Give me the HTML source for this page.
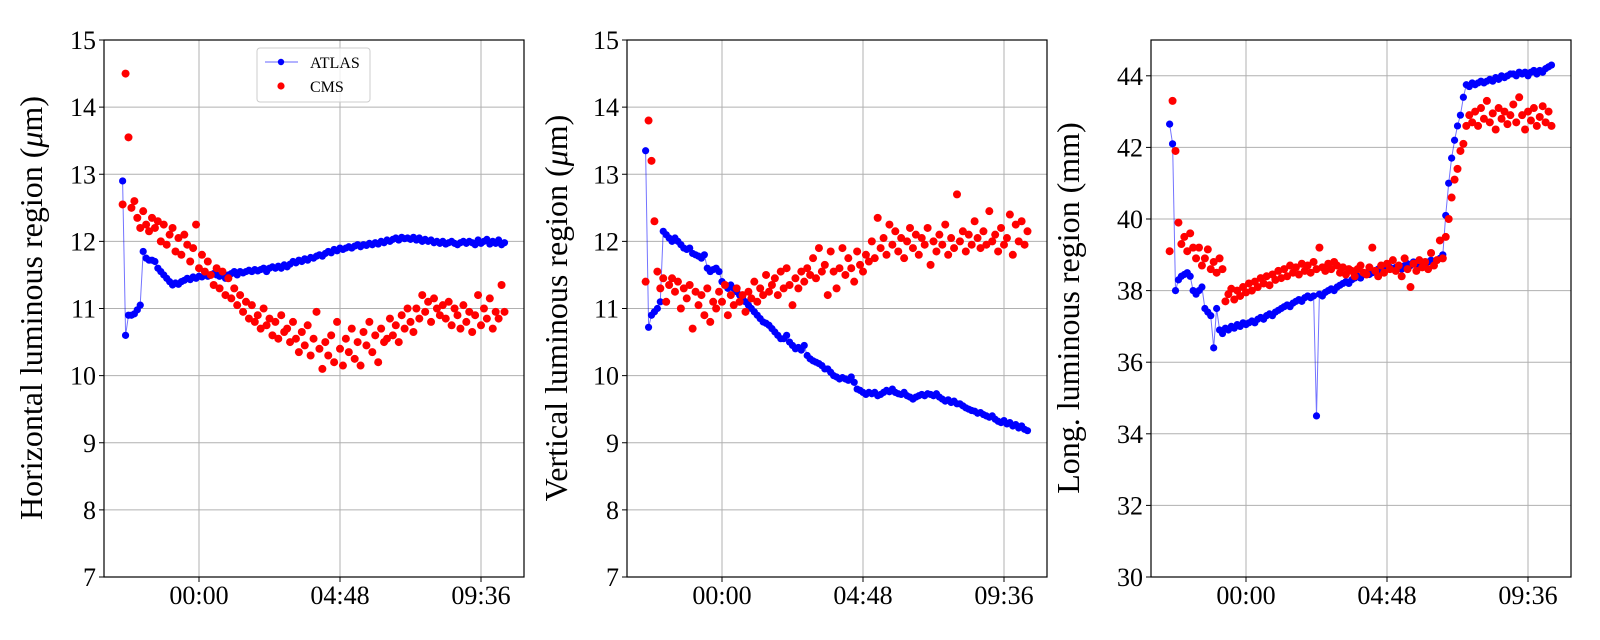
<!DOCTYPE html>
<html><head><meta charset="utf-8"><style>
html,body{margin:0;padding:0;background:#fff;}
svg{display:block;font-family:"Liberation Serif",serif;}
</style></head><body>
<svg id="fig" width="1600" height="640" viewBox="0 0 1600 640" xmlns="http://www.w3.org/2000/svg"></svg>
<script>
// Time axis: hours relative to 00:00, sampled every 0.1 h
const startHour = -2.6;
const stepHour = 0.1;
const xTickHours = [0, 4.8, 9.6];
const xTickLabels = ["00:00", "04:48", "09:36"];

const hTicks = [7, 8, 9, 10, 11, 12, 13, 14, 15];
const vTicks = [7, 8, 9, 10, 11, 12, 13, 14, 15];
const lTicks = [30, 32, 34, 36, 38, 40, 42, 44];

const hAtlas = [12.9,10.6,10.9,10.9,10.92,10.98,11.05,11.85,11.75,11.72,11.72,11.7,11.6,11.55,11.5,11.45,11.4,11.35,11.38,11.36,11.4,11.42,11.45,11.43,11.47,11.45,11.48,
11.47,11.5,11.48,11.5,11.52,11.5,11.48,11.5,11.45,11.5,
11.52,11.55,11.5,11.55,11.53,11.55,11.57,11.55,11.58,11.56,
11.58,11.6,11.55,11.6,11.62,11.6,11.63,11.6,11.65,11.62,
11.66,11.7,11.68,11.72,11.7,11.74,11.72,11.76,11.75,11.78,
11.8,11.78,11.82,11.85,11.83,11.88,11.86,11.9,11.88,11.9,
11.92,11.9,11.93,11.95,11.92,11.95,11.94,11.97,11.95,11.98,
11.96,12.0,11.98,12.02,12.0,12.03,12.05,12.02,12.06,12.04,
12.05,12.03,12.06,12.02,12.05,12.0,12.03,12.0,12.02,11.98,
12.0,11.97,12.0,11.96,11.98,12.0,11.97,11.95,11.98,12.0,
11.97,12.0,11.98,11.95,12.02,11.97,12.0,12.03,11.96,12.0,
11.97,12.02,11.95,11.98];
const hCms = [12.55,14.5,13.55,12.5,12.6,12.35,12.2,12.45,12.25,12.15,12.35,12.2,12.3,
12.0,12.25,11.95,12.1,12.2,11.85,12.05,11.8,12.1,11.95,
11.7,11.9,12.25,11.6,11.8,11.55,11.7,
11.5,11.35,11.6,11.3,11.55,11.2,11.45,11.15,11.3,11.05,
11.2,10.95,11.1,10.85,11.05,10.8,10.9,10.7,11.0,10.75,
10.85,10.6,10.8,10.55,10.9,10.65,10.7,10.5,10.8,10.55,
10.35,10.65,10.45,10.75,10.3,10.55,10.95,10.4,10.1,10.5,
10.3,10.6,10.2,10.8,10.4,10.15,10.55,10.35,10.7,10.25,
10.5,10.15,10.65,10.45,10.8,10.35,10.6,10.2,10.7,10.5,
10.55,10.85,10.6,10.75,10.5,10.9,10.7,11.0,10.8,10.65,
11.0,10.85,11.2,10.95,11.1,10.8,11.15,11.0,10.9,11.05,
10.85,11.1,10.75,11.0,10.9,10.7,11.05,10.8,10.95,10.65,
10.9,11.2,10.75,11.0,10.85,11.15,10.7,10.95,10.85,11.35,10.95];

const vAtlas = [13.35,10.72,10.9,10.95,11.0,11.1,12.15,12.1,12.05,12.0,12.05,
12.0,11.95,11.9,11.88,11.9,11.82,11.8,11.78,11.75,11.8,11.6,11.55,11.58,11.6,11.55,11.4,11.35,11.3,11.35,11.3,11.25,11.2,11.15,11.1,11.05,11.0,
10.95,10.9,10.85,10.8,10.78,10.75,10.7,10.65,10.6,10.55,
10.55,10.6,10.5,10.45,10.4,10.42,10.38,10.45,10.3,10.25,
10.22,10.2,10.18,10.15,10.1,10.1,10.05,10.0,9.98,9.95,
9.97,9.95,9.93,9.98,9.9,9.8,9.78,9.75,9.72,9.75,
9.73,9.75,9.7,9.72,9.75,9.78,9.76,9.8,9.75,9.73,
9.72,9.75,9.7,9.68,9.65,9.68,9.7,9.72,9.7,9.73,
9.72,9.7,9.73,9.68,9.65,9.62,9.64,9.6,9.62,9.58,
9.58,9.55,9.52,9.5,9.48,9.47,9.44,9.45,9.42,9.4,
9.38,9.4,9.35,9.32,9.3,9.33,9.28,9.3,9.25,9.27,
9.22,9.25,9.2,9.18];
const vCms = [11.4,13.8,13.2,12.3,
11.55,11.3,11.45,11.1,11.35,11.45,11.25,11.4,11.0,11.3,
11.15,11.35,10.7,11.25,11.05,11.2,10.9,11.3,10.8,11.1,
11.0,11.25,11.1,11.35,10.9,11.2,11.05,11.3,11.1,11.2,
10.95,11.25,11.15,11.4,11.1,11.3,11.2,11.5,11.25,11.35,
11.45,11.2,11.55,11.3,11.6,11.35,11.05,11.45,11.3,11.55,
11.4,11.6,11.5,11.75,11.45,11.9,11.55,11.65,11.2,11.85,
11.55,11.3,11.6,11.9,11.5,11.75,11.6,11.4,11.85,11.65,
11.55,11.8,11.7,12.0,11.75,12.35,11.9,12.05,11.8,12.25,
11.95,12.15,11.85,12.05,11.75,12.0,12.2,11.9,12.1,11.8,
12.05,11.95,12.2,11.65,12.0,11.85,12.1,11.95,12.25,11.8,
12.05,11.9,12.7,12.0,12.15,11.85,12.1,11.95,12.3,12.05,
11.9,12.15,11.95,12.45,12.0,12.1,11.85,12.2,11.95,12.05,
12.4,11.8,12.25,12.0,12.3,11.95,12.15];

const lAtlas = [42.65,42.1,38.0,38.3,38.4,38.45,38.5,38.4,38.0,37.9,38.0,38.1,37.5,37.4,37.3,36.4,37.5,36.9,36.8,36.95,36.9,37.0,36.95,37.05,37.0,37.1,37.05,37.1,37.15,37.1,37.2,37.25,37.2,37.3,37.35,37.3,37.4,
37.45,37.5,37.55,37.6,37.55,37.65,37.7,37.75,37.7,37.8,
37.85,37.8,37.85,34.5,37.9,37.85,37.95,38.0,38.05,38.0,
38.1,38.15,38.2,38.25,38.2,38.3,38.35,38.4,38.35,38.45,
38.5,38.45,38.5,38.55,38.6,38.55,38.5,38.6,38.65,38.6,
38.65,38.7,38.6,38.7,38.75,38.7,38.8,38.75,38.7,38.8,
38.75,38.8,38.85,38.8,38.85,38.9,39.0,40.1,41.0,41.7,
42.2,42.6,42.9,43.4,43.75,43.7,43.8,43.75,43.8,43.85,
43.8,43.85,43.9,43.85,43.95,43.9,44.0,43.95,44.0,44.05,
44.05,44.0,44.1,44.05,44.1,44.0,44.1,44.15,44.05,44.15,
44.1,44.2,44.25,44.3];
const lCms = [39.1,43.3,41.9,39.9,
39.3,39.5,39.1,39.6,39.2,38.9,39.2,38.7,38.9,39.15,38.6,38.8,38.5,38.9,38.6,
37.7,37.9,38.05,37.75,38.0,37.85,38.1,37.95,38.2,38.0,38.25,38.1,38.35,38.2,38.4,38.15,38.45,38.3,38.55,38.35,
38.6,38.4,38.7,38.5,38.65,38.45,38.75,38.55,
38.7,38.5,38.8,38.6,39.2,38.65,38.55,38.75,38.6,38.8,
38.7,38.5,38.65,38.45,38.6,38.55,38.4,38.6,38.7,38.5,
38.45,38.65,39.2,38.55,38.4,38.7,38.5,38.75,38.6,38.85,
38.55,38.7,38.4,38.9,38.6,38.1,38.75,38.55,38.85,38.65,
38.8,38.6,39.05,38.7,38.85,39.4,38.9,39.5,40.0,40.6,
41.1,41.4,41.9,42.1,42.6,42.9,42.7,43.0,42.6,43.1,
42.8,43.3,42.7,42.95,42.5,43.1,42.8,43.0,42.65,42.9,
43.2,42.7,43.4,42.9,42.5,43.0,42.75,43.1,42.6,42.85,
43.15,42.7,43.0,42.6];

const NS = "http://www.w3.org/2000/svg";
const svg = document.getElementById("fig");
function mk(tag, attrs, parent) {
  const e = document.createElementNS(NS, tag);
  for (const k in attrs) e.setAttribute(k, attrs[k]);
  (parent || svg).appendChild(e);
  return e;
}

function panel(key, left, yMin, yMax, yTicks, atlas, cms, labelX, labelParts, legend) {
  const top = 40, W = 420, H = 537, bottom = top + H;
  const hMin = -3.234, hMax = hMin + W / 29.375;
  const xs = h => left + (h - hMin) / (hMax - hMin) * W;
  const ys = v => bottom - (v - yMin) / (yMax - yMin) * H;
  const g = mk("g", {});
  
  
  xTickHours.forEach((h, i) => {
    const l = mk("line", {x1: xs(h), x2: xs(h), y1: top, y2: bottom, stroke: "#b0b0b0", "stroke-width": 1}, g);
    
    
    const tk = mk("line", {x1: xs(h), x2: xs(h), y1: bottom, y2: bottom + 5, stroke: "#000", "stroke-width": 1}, g);
    
    
    const t = mk("text", {x: xs(h), y: bottom + 27, "font-size": 26, "text-anchor": "middle", fill: "#000"}, g);
    t.textContent = xTickLabels[i];
    
    
  });
  yTicks.forEach(v => {
    const l = mk("line", {x1: left, x2: left + W, y1: ys(v), y2: ys(v), stroke: "#b0b0b0", "stroke-width": 1}, g);
    
    
    const tk = mk("line", {x1: left - 5, x2: left, y1: ys(v), y2: ys(v), stroke: "#000", "stroke-width": 1}, g);
    
    
    const t = mk("text", {x: left - 8, y: ys(v) + 9, "font-size": 26, "text-anchor": "end", fill: "#000"}, g);
    t.textContent = String(v);
    
    
  });
  const cp = mk("clipPath", {id: "clip-" + key}, g);
  mk("rect", {x: left, y: top, width: W, height: H}, cp);
  const dg = mk("g", {"clip-path": "url(#clip-" + key + ")"}, g);
  const pts = atlas.map((v, i) => xs(startHour + i * stepHour).toFixed(1) + "," + ys(v).toFixed(1)).join(" ");
  const pl = mk("polyline", {points: pts, fill: "none", stroke: "#0000ff", "stroke-opacity": 0.55, "stroke-width": 1}, dg);
  
  
  atlas.forEach((v, i) => {
    const c = mk("circle", {cx: xs(startHour + i * stepHour), cy: ys(v), r: 3.6, fill: "#0000ff"}, dg);
    
    
  });
  cms.forEach((v, i) => {
    const c = mk("circle", {cx: xs(startHour + i * stepHour), cy: ys(v), r: 4.0, fill: "#ff0000"}, dg);
    
    
  });
  const fr = mk("rect", {x: left, y: top, width: W, height: H, fill: "none", stroke: "#000", "stroke-width": 1.2}, g);
  
  
  const yl = mk("text", {x: labelX, y: 308, "font-size": 32, "text-anchor": "middle", fill: "#000", transform: "rotate(-90 " + labelX + " 308)"}, g);
  
  
  labelParts.forEach(p => {
    const ts = mk("tspan", p[1] ? {"font-style": "italic"} : {}, yl);
    ts.textContent = p[0];
  });
  if (legend) {
    const lg = mk("g", {}, g);
    
    
    mk("rect", {x: 257, y: 48, width: 113, height: 54, rx: 3, fill: "#fff", "fill-opacity": 0.8, stroke: "#cccccc", "stroke-width": 1}, lg);
    const e1 = mk("g", {}, lg);
    
    
    mk("line", {x1: 265, x2: 298, y1: 62, y2: 62, stroke: "#0000ff", "stroke-opacity": 0.6, "stroke-width": 1}, e1);
    mk("circle", {cx: 281, cy: 62, r: 3.2, fill: "#0000ff"}, e1);
    const t1 = mk("text", {x: 310, y: 68, "font-size": 16, fill: "#000"}, e1);
    t1.textContent = "ATLAS";
    const e2 = mk("g", {}, lg);
    
    
    mk("circle", {cx: 281, cy: 86, r: 3.6, fill: "#ff0000"}, e2);
    const t2 = mk("text", {x: 310, y: 92, "font-size": 16, fill: "#000"}, e2);
    t2.textContent = "CMS";
  }
}

panel("horizontal", 104, 7, 15, hTicks, hAtlas, hCms, 42, [["Horizontal luminous region (", false], ["μ", true], ["m)", false]], true);
panel("vertical", 627, 7, 15, vTicks, vAtlas, vCms, 567, [["Vertical luminous region (", false], ["μ", true], ["m)", false]], false);
panel("longitudinal", 1151, 30, 45, lTicks, lAtlas, lCms, 1079, [["Long. luminous region (mm)", false]], false);
</script>
</body></html>
